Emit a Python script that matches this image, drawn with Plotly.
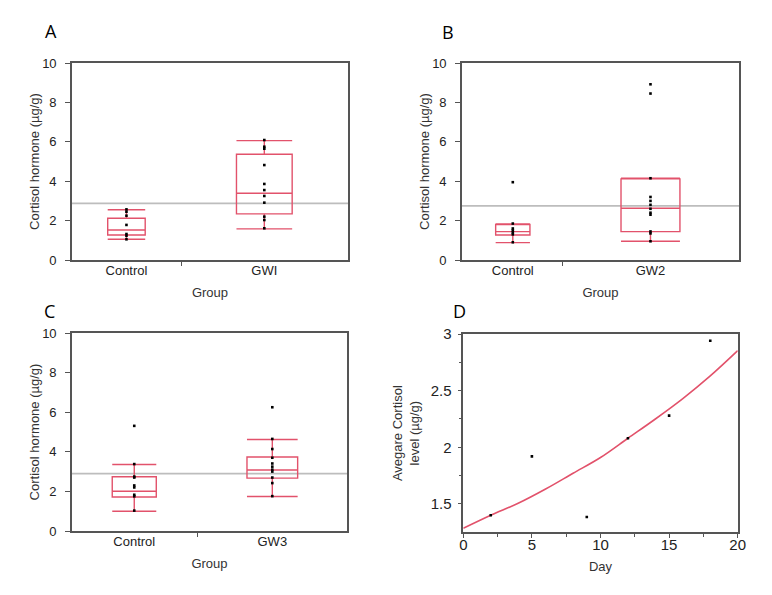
import plotly.graph_objects as go

# ---------------- data ----------------
groups_A = ["Control", "GWI"]
groups_B = ["Control", "GW2"]
groups_C = ["Control", "GW3"]

# precomputed box statistics per group: [lowerfence, q1, median, q3, upperfence]
stats_A = [[1.05, 1.27, 1.52, 2.12, 2.55], [1.58, 2.34, 3.39, 5.37, 6.06]]
stats_B = [[0.88, 1.27, 1.44, 1.80, 1.83], [0.95, 1.44, 2.63, 4.12, 4.15]]
stats_C = [[1.00, 1.72, 2.01, 2.74, 3.36], [1.74, 2.67, 3.08, 3.74, 4.62]]

# individual measurements
points_A = [[2.57, 2.45, 2.25, 1.78, 1.32, 1.23, 1.05],
            [6.09, 5.75, 5.65, 4.82, 3.86, 3.55, 3.25, 2.91, 2.2, 2.03, 1.61]]
points_B = [[3.95, 1.85, 1.6, 1.5, 1.4, 1.3, 0.9],
            [8.92, 8.45, 4.15, 3.2, 3.0, 2.8, 2.6, 2.4, 2.3, 1.45, 1.35, 0.95]]
points_C = [[5.31, 3.38, 2.75, 2.7, 2.3, 2.2, 1.83, 1.75, 1.03],
            [6.25, 4.65, 4.14, 3.7, 3.41, 3.25, 3.1, 3.0, 2.7, 2.42, 1.76]]

reference_levels = [2.87, 2.75, 2.9]

days = [2, 5, 9, 12, 15, 18]
avg_cortisol = [1.40, 1.92, 1.385, 2.08, 2.28, 2.94]
fit_days = [0, 2, 4, 6, 8, 10, 12, 14, 16, 18, 20]
fit_values = [1.285, 1.40, 1.506, 1.632, 1.771, 1.91, 2.08, 2.25, 2.43, 2.63, 2.853]

y_ticks = [0, 2, 4, 6, 8, 10]

# ---------------- styles ----------------
RED = "#E2526B"
AX = "#555555"
FONT = "Liberation Sans, Arial, sans-serif"
W, H = 772, 595

def px2x(a, b):
    return [a / W, b / W]

def px2y(top, bottom):
    return [1 - bottom / H, 1 - top / H]

panels = [
    # name, groups, stats, points, box widths, xrange, mid tick, xdomain, ydomain
    ("A", groups_A, stats_A, points_A, [0.272, 0.404], [0.605, 2.607], 1.40, px2x(72, 348), px2y(63, 260)),
    ("B", groups_B, stats_B, points_B, [0.249, 0.428], [0.631, 2.643], 1.36, px2x(462, 739), px2y(63, 260)),
    ("C", groups_C, stats_C, points_C, [0.319, 0.367], [0.549, 2.541], 1.46, px2x(72, 347), px2y(333, 531)),
]

fig = go.Figure()
layout = {}
shapes = []
annotations = []

for i, (name, groups, stats, pts, widths, xr, midtick, xd, yd) in enumerate(panels):
    n = i + 1
    xa = "x" if n == 1 else f"x{n}"
    ya = "y" if n == 1 else f"y{n}"
    for j, (g, st) in enumerate(zip(groups, stats)):
        pos = j + 1
        fig.add_trace(go.Box(
            x=[pos], lowerfence=[st[0]], q1=[st[1]], median=[st[2]], q3=[st[3]], upperfence=[st[4]],
            width=widths[j], whiskerwidth=1, boxpoints=False,
            line=dict(color=RED, width=1.4), fillcolor="rgba(0,0,0,0)",
            xaxis=xa, yaxis=ya, showlegend=False, hoverinfo="skip"))
        fig.add_trace(go.Scatter(
            x=[pos] * len(pts[j]), y=pts[j], mode="markers",
            marker=dict(color="black", size=2.6, symbol="square"),
            xaxis=xa, yaxis=ya, showlegend=False))
    xkey = "xaxis" if n == 1 else f"xaxis{n}"
    ykey = "yaxis" if n == 1 else f"yaxis{n}"
    layout[xkey] = dict(
        domain=xd, anchor=ya, range=xr, tickmode="array", tickvals=[1, 2], ticktext=groups,
        ticks="", showline=True, linecolor=AX, linewidth=1.6, mirror=True, showgrid=False,
        zeroline=False, tickfont=dict(size=13, color="#222"), ticklabelstandoff=-2,
        minor=dict(tickmode="array", tickvals=[midtick], ticks="outside", ticklen=4,
                   tickcolor=AX, tickwidth=1.2),
        title=dict(text="Group", font=dict(size=13, color="#333"), standoff=10))
    layout[ykey] = dict(
        domain=yd, anchor=xa, range=[0, 10], tickmode="array", tickvals=y_ticks,
        ticks="outside", ticklen=5, tickcolor=AX, tickwidth=1.4, ticklabelstandoff=6,
        showline=True, linecolor=AX, linewidth=1.6, mirror=True, showgrid=False, zeroline=False,
        tickfont=dict(size=13, color="#222"),
        title=dict(text="Cortisol hormone (µg/g)", font=dict(size=13, color="#333"), standoff=0))
    shapes.append(dict(type="line", xref=f"{xa} domain", yref=ya, x0=0, x1=1,
                       y0=reference_levels[i], y1=reference_levels[i],
                       line=dict(color="#BDBDBD", width=1.8), layer="below"))

# Panel D
fig.add_trace(go.Scatter(x=fit_days, y=fit_values, mode="lines", line=dict(color=RED, width=1.6, shape="spline"),
                         xaxis="x4", yaxis="y4", showlegend=False))
fig.add_trace(go.Scatter(x=days, y=avg_cortisol, mode="markers",
                         marker=dict(color="black", size=2.6, symbol="square"),
                         xaxis="x4", yaxis="y4", showlegend=False))
layout["xaxis4"] = dict(
    domain=px2x(463.3, 737.7), anchor="y4", range=[0, 20], tickmode="array", tickvals=[0, 5, 10, 15, 20],
    ticks="outside", ticklen=4, tickcolor=AX, tickwidth=1.4, ticklabelstandoff=-6,
    minor=dict(tickmode="array", tickvals=[2.5, 7.5, 12.5, 17.5], ticks="outside", ticklen=3, tickcolor=AX, tickwidth=1.2),
    showline=True, linecolor=AX, linewidth=1.6, mirror=True, showgrid=False, zeroline=False,
    tickfont=dict(size=15, color="#222"),
    title=dict(text="Day", font=dict(size=13, color="#333"), standoff=10))
layout["yaxis4"] = dict(
    domain=px2y(334, 532.3), anchor="x4", range=[1.25, 3.0], tickmode="array", tickvals=[1.5, 2, 2.5, 3],
    ticktext=["1.5", "2", "2.5", "3"],
    ticks="outside", ticklen=4, tickcolor=AX, tickwidth=1.4, ticklabelstandoff=3,
    minor=dict(tickmode="array", tickvals=[1.75, 2.25, 2.75], ticks="outside", ticklen=3, tickcolor=AX, tickwidth=1.2),
    showline=True, linecolor=AX, linewidth=1.6, mirror=True, showgrid=False, zeroline=False,
    tickfont=dict(size=15, color="#222"),
    title=dict(text="Avegare Cortisol<br>level (µg/g)", font=dict(size=13, color="#333"), standoff=8))

# panel letters
for letter, (lx, ly) in zip("ABCD", [(51, 31), (448, 32), (49, 311), (459, 311)]):
    annotations.append(dict(text=letter, x=lx / W, y=1 - ly / H, xref="paper", yref="paper",
                            showarrow=False, xanchor="center", yanchor="middle",
                            font=dict(size=18, color="black", family="Open Sans, Liberation Sans, sans-serif")))

fig.update_layout(
    width=W, height=H, margin=dict(l=0, r=0, t=0, b=0, autoexpand=False),
    paper_bgcolor="white", plot_bgcolor="white",
    font=dict(family=FONT, size=13, color="#222"),
    boxmode="overlay", shapes=shapes, annotations=annotations, **layout)

fig.write_html("out.html", config={"displayModeBar": False},
               post_script="document.body.style.margin='0';document.body.style.padding='0';")
